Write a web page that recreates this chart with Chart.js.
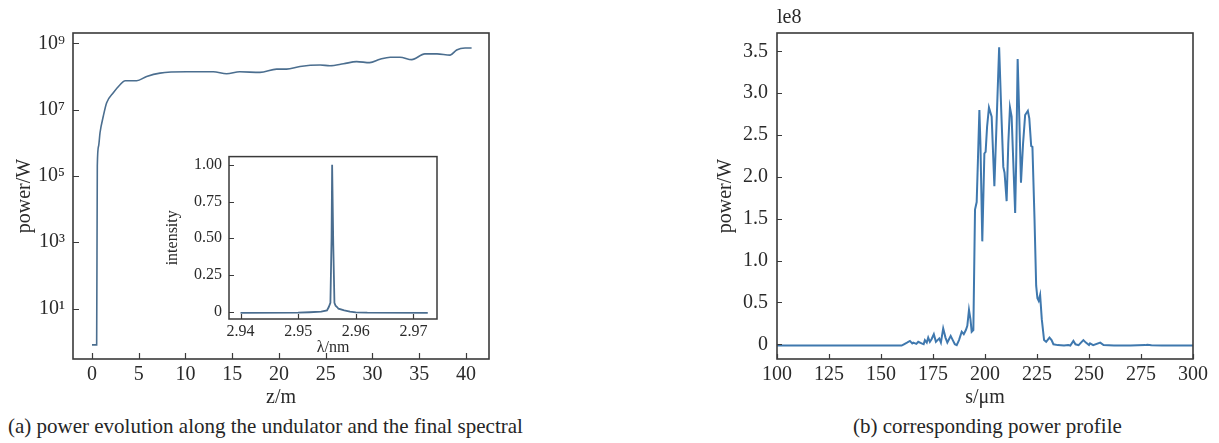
<!DOCTYPE html>
<html>
<head>
<meta charset="utf-8">
<script src="https://cdn.jsdelivr.net/npm/chart.js@4/dist/chart.umd.min.js"></script>
<style>
  html, body { margin: 0; padding: 0; background: #ffffff; }
  body { width: 1219px; height: 443px; position: relative; overflow: hidden; font-family: "Liberation Serif", "DejaVu Serif", serif; }
  canvas { position: absolute; }
  .cap { position: absolute; font-size: 21px; line-height: 24px; color: #262626; white-space: nowrap; }
</style>
</head>
<body>
<canvas id="main" width="520" height="410" style="left:0;top:0;width:520px;height:410px"></canvas>
<canvas id="inset" width="300" height="215" style="left:150px;top:140px;width:300px;height:215px"></canvas>
<canvas id="prof" width="519" height="410" style="left:700px;top:0;width:519px;height:410px"></canvas>
<div class="cap" id="capA" style="left:8px;top:414px">(a) power evolution along the undulator and the final spectral</div>
<div class="cap" id="capB" style="left:0;top:414px">(b) corresponding power profile</div>
<script>
// ---------------- DATA ----------------
// (a) power evolution along the undulator (z in m, power in W)
const zPos = [0, 0.5, 0.57, 0.71, 0.86, 1.21, 1.57, 2.28, 3.0, 3.53, 4.78, 5.85, 7.27, 10.1, 12.97, 14.4, 15.8, 17.97, 19.75, 20.8, 22.25, 24.4, 25.45, 26.9, 28.3, 29.7, 30.8, 31.9, 32.94, 34.2, 35.6, 36.9, 38.3, 39.0, 39.9, 40.6];
const powerZ = [0.8, 0.8, 2e5, 8e5, 2e6, 6.3e6, 1.6e7, 3.2e7, 5.6e7, 7.4e7, 7.4e7, 1.0e8, 1.26e8, 1.38e8, 1.38e8, 1.2e8, 1.38e8, 1.32e8, 1.66e8, 1.66e8, 2.0e8, 2.2e8, 2.1e8, 2.4e8, 2.8e8, 2.6e8, 3.3e8, 3.8e8, 3.8e8, 3.2e8, 4.8e8, 4.8e8, 4.4e8, 6.3e8, 7.2e8, 7.2e8];
const zTicks = [0, 5, 10, 15, 20, 25, 30, 35, 40];
const powerTicks = [1e1, 1e3, 1e5, 1e7, 1e9];
const powerTickLabels = ['10\u00B9', '10\u00B3', '10\u2075', '10\u2077', '10\u2079'];

// inset: final spectrum (lambda in nm, normalised intensity)
const lambdaNm = [2.94, 2.95, 2.952, 2.954, 2.955, 2.9553, 2.9556, 2.9558, 2.9559, 2.9561, 2.9563, 2.9565, 2.9568, 2.957, 2.958, 2.959, 2.96, 2.962, 2.9725];
const intensity = [-0.008, -0.007, -0.004, 0.0, 0.008, 0.03, 0.06, 0.5, 1.0, 0.45, 0.06, 0.04, 0.03, 0.02, 0.008, 0.0, -0.005, -0.007, -0.008];
const lambdaTicks = [2.94, 2.95, 2.96, 2.97];
const intensityTicks = [0, 0.25, 0.5, 0.75, 1.0];
const intensityTickLabels = ['0', '0.25', '0.50', '0.75', '1.00'];

// (b) corresponding power profile (s in um, power in units of 1e8 W)
const sPos = [100, 159.9, 161, 162.5, 163.9, 165, 165.5, 167, 167.9, 169.5, 170.5, 171.1, 172, 172.7, 173.5, 174.3, 175.4, 176.4, 177.2, 178, 178.8, 179.9, 181, 181.9, 182.7, 183.5, 184.5, 185.5, 186.4, 187.5, 188.8, 189.8, 190.8, 191.5, 192.3, 193, 193.6, 194.4, 195.2, 196, 196.6, 197.3, 197.8, 198.7, 199.7, 200.3, 201, 201.9, 203.2, 204.5, 205.5, 206.8, 207.8, 208.8, 209.4, 210.4, 211.2, 212, 212.8, 214.5, 215, 215.7, 216.5, 217.3, 218.3, 219.3, 220.6, 221.3, 222.2, 222.8, 223.8, 224.6, 225.2, 225.8, 226.5, 227.3, 228.4, 229.4, 231, 232, 232.9, 235, 238, 240, 241, 242.5, 243.5, 245, 247.3, 248.5, 250, 250.5, 252, 255.4, 257, 262, 270, 277, 278, 280, 285, 300];
const powerS = [-0.015, -0.015, 0.0, 0.02, 0.04, 0.01, 0.02, 0.005, 0.03, 0.01, 0.0, 0.05, 0.02, 0.08, 0.03, 0.06, 0.12, 0.03, 0.05, 0.07, 0.02, 0.19, 0.08, 0.02, 0.06, 0.10, 0.05, 0.0, -0.01, 0.05, 0.15, 0.12, 0.17, 0.22, 0.41, 0.3, 0.15, 0.17, 1.61, 1.70, 2.2, 2.80, 2.4, 1.23, 2.28, 2.30, 2.6, 2.83, 2.72, 1.89, 2.6, 3.55, 2.8, 2.12, 2.05, 1.71, 2.4, 2.83, 2.72, 1.57, 2.2, 3.41, 2.7, 1.93, 2.4, 2.74, 2.79, 2.7, 2.37, 2.36, 1.5, 0.7, 0.55, 0.52, 0.59, 0.3, 0.05, 0.03, 0.08, 0.05, 0.0, -0.01, -0.015, -0.01, -0.015, 0.04, 0.0, -0.01, 0.05, 0.02, -0.01, 0.01, -0.01, 0.02, -0.01, -0.015, -0.015, -0.01, -0.005, -0.012, -0.015, -0.015];
const sTicks = [100, 125, 150, 175, 200, 225, 250, 275, 300];
const profTicks = [0, 0.5, 1.0, 1.5, 2.0, 2.5, 3.0, 3.5];
const profTickLabels = ['0', '0.5', '1.0', '1.5', '2.0', '2.5', '3.0', '3.5'];

// ---------------- RENDER ----------------
const SERIF = '"Liberation Serif", "DejaVu Serif", serif';
const TXT = '#2a2a2a';
Chart.defaults.font.family = SERIF;
Chart.defaults.color = TXT;

const framePlugin = {
  id: 'frame',
  beforeDatasetsDraw(chart, args, o) {
    if (!o.fill) return;
    const { ctx, chartArea: a } = chart;
    ctx.save();
    ctx.fillStyle = o.fill;
    ctx.fillRect(a.left, a.top, a.right - a.left, a.bottom - a.top);
    ctx.restore();
  },
  afterDraw(chart, args, o) {
    const { ctx, chartArea: a } = chart;
    ctx.save();
    ctx.strokeStyle = o.color || '#3a3a3a';
    ctx.lineWidth = o.width || 1.5;
    ctx.strokeRect(a.left, a.top, a.right - a.left, a.bottom - a.top);
    const xs = chart.scales.x, ys = chart.scales.y, L = o.tickLen || 5;
    ctx.lineWidth = o.tickWidth || 1.2;
    ctx.beginPath();
    xs.ticks.forEach(t => { const p = Math.round(xs.getPixelForValue(t.value)) + 0.5; ctx.moveTo(p, a.bottom); ctx.lineTo(p, a.bottom - L); });
    ys.ticks.forEach(t => { const p = Math.round(ys.getPixelForValue(t.value)) + 0.5; ctx.moveTo(a.left, p); ctx.lineTo(a.left + L, p); });
    ctx.stroke();
    if (o.offsetText) {
      ctx.fillStyle = TXT;
      ctx.font = o.offsetFont;
      ctx.textAlign = 'left';
      ctx.textBaseline = 'middle';
      ctx.fillText(o.offsetText, a.left, o.offsetY);
    }
    ctx.restore();
  }
};

function fixedTicks(values) {
  return function (scale) { scale.ticks = values.map(v => ({ value: v })); };
}
function fixW(w) { return function (s) { s.width = w; }; }
function fixH(h) { return function (s) { s.height = h; }; }

// (a) main chart
new Chart(document.getElementById('main'), {
  type: 'line',
  data: { labels: zPos, datasets: [{ data: zPos.map((z, i) => ({ x: z, y: powerZ[i] })), borderColor: '#4b6e8f', borderWidth: 1.6, pointRadius: 0, fill: false, cubicInterpolationMode: 'monotone' }] },
  options: {
    responsive: false, animation: false, devicePixelRatio: 1,
    layout: { padding: { left: 0, top: 33, right: 31, bottom: 0 } },
    plugins: { legend: { display: false }, tooltip: { enabled: false }, frame: { tickLen: 6, width: 1.6 } },
    scales: {
      x: {
        type: 'linear', min: -2.03, max: 42.46,
        afterBuildTicks: fixedTicks(zTicks), afterFit: fixH(51),
        grid: { display: false, drawTicks: false }, border: { display: false },
        ticks: { font: { size: 20 }, padding: 4, color: TXT, callback: v => String(v) },
        title: { display: true, text: 'z/m', font: { size: 20 }, padding: { top: 0, bottom: 0 }, color: TXT }
      },
      y: {
        type: 'logarithmic', min: 0.34, max: 2.04e9,
        afterBuildTicks: fixedTicks(powerTicks), afterFit: fixW(73),
        grid: { display: false, drawTicks: false }, border: { display: false },
        ticks: { font: { size: 20 }, padding: 8, color: TXT, callback: (v, i) => powerTickLabels[i] },
        title: { display: true, text: 'power/W', font: { size: 20 }, padding: { top: 13, bottom: 0 }, color: TXT }
      }
    }
  },
  plugins: [framePlugin]
});

// inset spectrum
new Chart(document.getElementById('inset'), {
  type: 'line',
  data: { labels: lambdaNm, datasets: [{ data: lambdaNm.map((l, i) => ({ x: l, y: intensity[i] })), borderColor: '#4a6d8f', borderWidth: 1.8, pointRadius: 0, fill: false, tension: 0 }] },
  options: {
    responsive: false, animation: false, devicePixelRatio: 1,
    layout: { padding: { left: 0, top: 15, right: 13, bottom: 0 } },
    plugins: { legend: { display: false }, tooltip: { enabled: false }, frame: { fill: '#ffffff', tickLen: 5, width: 1.5 } },
    scales: {
      x: {
        type: 'linear', min: 2.938, max: 2.9741,
        afterBuildTicks: fixedTicks(lambdaTicks), afterFit: fixH(36),
        grid: { display: false, drawTicks: false }, border: { display: false },
        ticks: { font: { size: 16 }, padding: 3, color: TXT, callback: v => v.toFixed(2) },
        title: { display: true, text: '\u03BB/nm', font: { size: 16 }, padding: { top: 0, bottom: -2 }, color: TXT }
      },
      y: {
        type: 'linear', min: -0.05, max: 1.056,
        afterBuildTicks: fixedTicks(intensityTicks), afterFit: fixW(79),
        grid: { display: false, drawTicks: false }, border: { display: false },
        ticks: { font: { size: 16 }, padding: 7, color: TXT, callback: (v, i) => intensityTickLabels[i] },
        title: { display: true, text: 'intensity', font: { size: 16 }, padding: { top: 13, bottom: 0 }, color: TXT }
      }
    }
  },
  plugins: [framePlugin]
});

// (b) power profile
new Chart(document.getElementById('prof'), {
  type: 'line',
  data: { labels: sPos, datasets: [{ data: sPos.map((s, i) => ({ x: s, y: powerS[i] })), borderColor: '#3f78ae', borderWidth: 2, pointRadius: 0, fill: false, tension: 0 }] },
  options: {
    responsive: false, animation: false, devicePixelRatio: 1,
    layout: { padding: { left: 0, top: 33, right: 26, bottom: 0 } },
    plugins: { legend: { display: false }, tooltip: { enabled: false }, frame: { tickLen: 5, width: 1.6, offsetText: 'le8', offsetFont: '20px ' + SERIF, offsetY: 18 } },
    scales: {
      x: {
        type: 'linear', min: 100, max: 300,
        afterBuildTicks: fixedTicks(sTicks), afterFit: fixH(51),
        grid: { display: false, drawTicks: false }, border: { display: false },
        ticks: { font: { size: 20 }, padding: 4, color: TXT, callback: v => String(v) },
        title: { display: true, text: 's/\u03BCm', font: { size: 20 }, padding: { top: 0, bottom: 0 }, color: TXT }
      },
      y: {
        type: 'linear', min: -0.176, max: 3.72,
        afterBuildTicks: fixedTicks(profTicks), afterFit: fixW(77),
        grid: { display: false, drawTicks: false }, border: { display: false },
        ticks: { font: { size: 20 }, padding: 9, color: TXT, callback: (v, i) => profTickLabels[i] },
        title: { display: true, text: 'power/W', font: { size: 20 }, padding: { top: 14, bottom: 0 }, color: TXT }
      }
    }
  },
  plugins: [framePlugin]
});

// centre caption (b) under its plot
(function () {
  const b = document.getElementById('capB');
  b.style.left = Math.round(987 - b.offsetWidth / 2) + 'px';
})();
</script>
</body>
</html>
